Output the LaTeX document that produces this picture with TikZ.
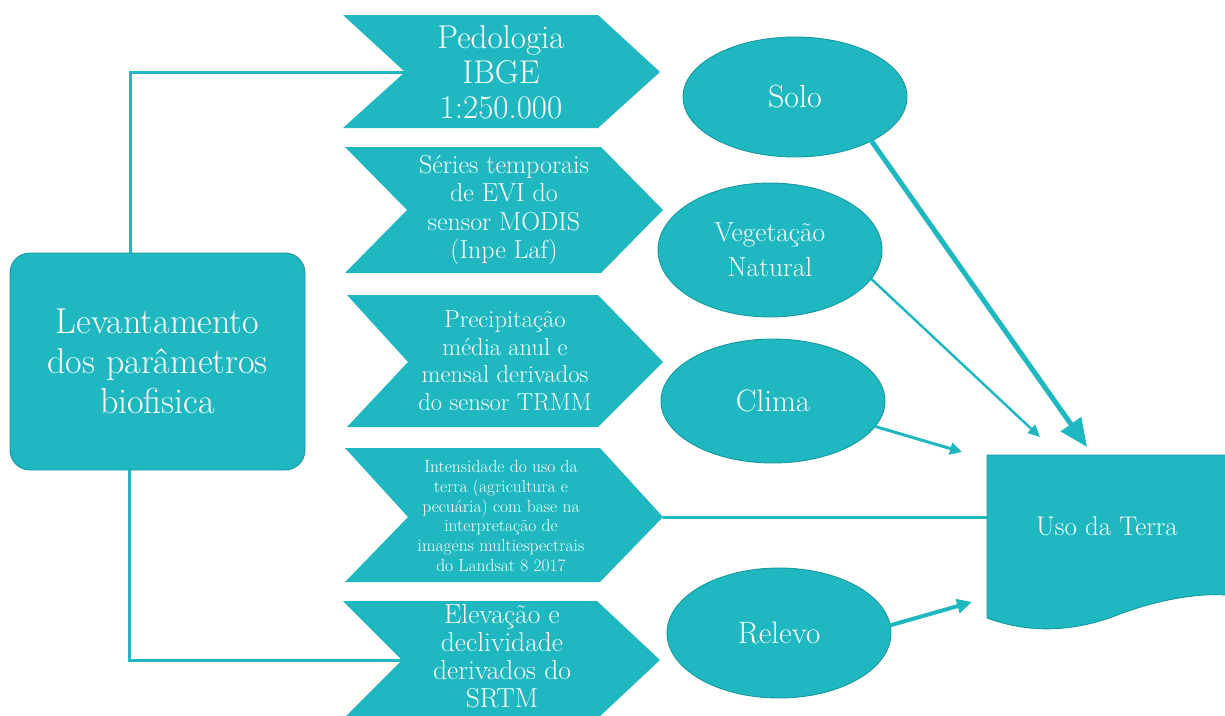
\documentclass[tikz,border=0pt]{standalone}
\usetikzlibrary{shapes.geometric,arrows.meta}
\definecolor{tealA}{HTML}{1FB8C1}
\definecolor{tealB}{HTML}{17979E}
\tikzset{
  chev/.style={fill=tealA},
  lbl/.style={text=white, align=center, inner sep=0pt},
  ell/.style={ellipse, fill=tealA, draw=tealB, line width=0.9pt, text=white, align=center, inner sep=0pt, minimum width=224pt},
  conn/.style={draw=tealA, line width=3pt},
  arr/.style={draw=tealA, line width=3pt},
}
\begin{document}
\begin{tikzpicture}[x=1pt,y=-1pt]
\useasboundingbox (0,0) rectangle (1225,715);

% left box
\node[rounded corners=20pt, fill=tealA, draw=tealB, line width=0.9pt, lbl,
      minimum width=295pt, minimum height=217pt,
      font={\fontsize{36}{40}\selectfont}] (box) at (157.5,361.5)
      {Levantamento\\dos parâmetros\\biofisica};

% chevrons
\fill[chev] (343,15) -- (598,15) -- (660,72) -- (598,128) -- (343,128) -- (405,72) -- cycle;
\coordinate (c1in) at (405,72); \coordinate (c1out) at (660,72);
\node[lbl, font={\fontsize{33}{35}\selectfont}] (c1) at (501,72) {Pedologia\\IBGE\\1:250.000};

\fill[chev] (345,147) -- (601,147) -- (663,210) -- (601,273) -- (345,273) -- (407,210) -- cycle;
\node[lbl, font={\fontsize{26}{28.5}\selectfont}] (c2) at (504,210) {Séries temporais\\de EVI do\\sensor MODIS\\(Inpe Laf)};

\fill[chev] (347,295) -- (598,295) -- (663,362) -- (598,427) -- (347,427) -- (408,362) -- cycle;
\node[lbl, font={\fontsize{24.5}{27.5}\selectfont}] (c3) at (505,361) {Precipitação\\média anul e\\mensal derivados\\do sensor TRMM};

\fill[chev] (345,448) -- (600,448) -- (663,517) -- (600,582) -- (345,582) -- (408,517) -- cycle;
\coordinate (c4out) at (663,517);
\node[lbl, font={\fontsize{17.5}{19.8}\selectfont}] (c4) at (501,516) {Intensidade do uso da\\terra (agricultura e\\pecuária) com base na\\interpretação de\\imagens multiespectrais\\do Landsat 8 2017};

\fill[chev] (343,601) -- (597,601) -- (660,660) -- (597,719) -- (343,719) -- (402,660) -- cycle;
\coordinate (c5in) at (402,660);
\node[lbl, font={\fontsize{27.5}{28}\selectfont}] (c5) at (502,656) {Elevação e\\declividade\\derivados do\\SRTM};

% ellipses
\node[ell, minimum height=120pt, font={\fontsize{32}{35}\selectfont}] (solo) at (795,97) {Solo};
\node[ell, minimum height=134pt, font={\fontsize{27.5}{35}\selectfont}] (veg) at (770,250) {Vegetação\\Natural};
\node[ell, minimum height=124pt, font={\fontsize{31}{35}\selectfont}] (clima) at (773,401) {Clima};
\node[ell, minimum height=130pt, font={\fontsize{31}{35}\selectfont}] (relevo) at (779,633) {Relevo};

% document shape
\filldraw[fill=tealA, draw=tealB, line width=0.9pt]
  (1226,455) -- (987,455) -- (987,618)
  .. controls (1030,634) and (1075,632) .. (1120,614)
  .. controls (1160,599) and (1200,593) .. (1226,595) -- cycle;
\coordinate (docin) at (987,517);
\node[lbl, font={\fontsize{27}{30}\selectfont}] (doc) at (1107,526) {Uso da Terra};

% connectors from the left box
\draw[conn] ([xshift=-27pt]box.north) |- (c1in);
\draw[conn] ([xshift=-28pt]box.south) |- (c5in);
\draw[conn] (c4out) -- (docin);

% arrows to Uso da Terra
\coordinate (t1) at (1087,447);
\coordinate (t2) at (1040,437);
\coordinate (t3) at (962,452);
\coordinate (t4) at (972,602);
\draw[arr, line width=5pt, -{Triangle[length=28pt,width=24pt]}] (solo.-30) -- (t1);
\draw[arr, line width=2.5pt, -{Triangle[length=12pt,width=11pt]}] (veg.-16) -- (t2);
\draw[arr, line width=3pt, -{Triangle[length=12pt,width=12pt]}] (clima.-14) -- (t3);
\draw[arr, line width=4pt, -{Triangle[length=15pt,width=14pt]}] (relevo.4) -- (t4);
\end{tikzpicture}
\end{document}
